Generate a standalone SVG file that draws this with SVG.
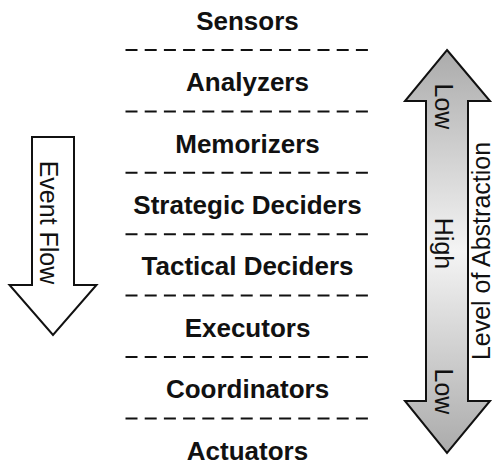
<svg xmlns="http://www.w3.org/2000/svg" width="495" height="465" viewBox="0 0 495 465">
  <style>
    .lbl { font-family: "Liberation Sans", Arial, sans-serif; font-weight: bold; font-size: 26px; fill: #111; text-anchor: middle; }
    .rt { font-family: "Liberation Sans", Arial, sans-serif; font-size: 25px; fill: #111; text-anchor: middle; }
    .sep { stroke: #111; stroke-width: 2; stroke-dasharray: 12 7.2; fill: none; }
    .arrow { stroke: #111; stroke-width: 2; stroke-linejoin: miter; }
  </style>
  <defs>
    <linearGradient id="grad" x1="0" y1="0" x2="0" y2="1">
      <stop offset="0" stop-color="#ababab"/>
      <stop offset="0.5" stop-color="#f4f4f4"/>
      <stop offset="1" stop-color="#ababab"/>
    </linearGradient>
  </defs>
  <rect width="495" height="465" fill="#ffffff"/>

  <g id="separators">
    <line class="sep" x1="125.5" y1="50" x2="368" y2="50"/>
    <line class="sep" x1="125.5" y1="111.4" x2="368" y2="111.4"/>
    <line class="sep" x1="125.5" y1="172.8" x2="368" y2="172.8"/>
    <line class="sep" x1="125.5" y1="234.2" x2="368" y2="234.2"/>
    <line class="sep" x1="125.5" y1="295.6" x2="368" y2="295.6"/>
    <line class="sep" x1="125.5" y1="357" x2="368" y2="357"/>
    <line class="sep" x1="125.5" y1="418.4" x2="368" y2="418.4"/>
  </g>

  <g id="sensors"><text class="lbl" x="247.5" y="29.8">Sensors</text></g>
  <g id="analyzers"><text class="lbl" x="247.5" y="91.2">Analyzers</text></g>
  <g id="memorizers"><text class="lbl" x="247.5" y="152.6">Memorizers</text></g>
  <g id="strategic-deciders"><text class="lbl" x="247.5" y="214">Strategic Deciders</text></g>
  <g id="tactical-deciders"><text class="lbl" x="247.5" y="275.4">Tactical Deciders</text></g>
  <g id="executors"><text class="lbl" x="247.5" y="336.8">Executors</text></g>
  <g id="coordinators"><text class="lbl" x="247.5" y="398.2">Coordinators</text></g>
  <g id="actuators"><text class="lbl" x="247.5" y="459.6">Actuators</text></g>

  <g id="event-flow">
    <path class="arrow" fill="#ffffff" d="M32,137 H74 V285 H96.5 L53,335 L9.5,285 H32 Z"/>
    <text class="rt" transform="translate(40,222.5) rotate(90)">Event Flow</text>
  </g>

  <g id="level-of-abstraction">
    <path class="arrow" fill="url(#grad)" d="M447,50 L490,101 H468 V401 H490 L447,453 L405,401 H426 V101 H405 Z"/>
    <text class="rt" transform="translate(435,106.5) rotate(90)">Low</text>
    <text class="rt" transform="translate(435,243.5) rotate(90)">High</text>
    <text class="rt" transform="translate(435,391.5) rotate(90)">Low</text>
    <text class="rt" transform="translate(489.5,251) rotate(-90)">Level of Abstraction</text>
  </g>
</svg>
